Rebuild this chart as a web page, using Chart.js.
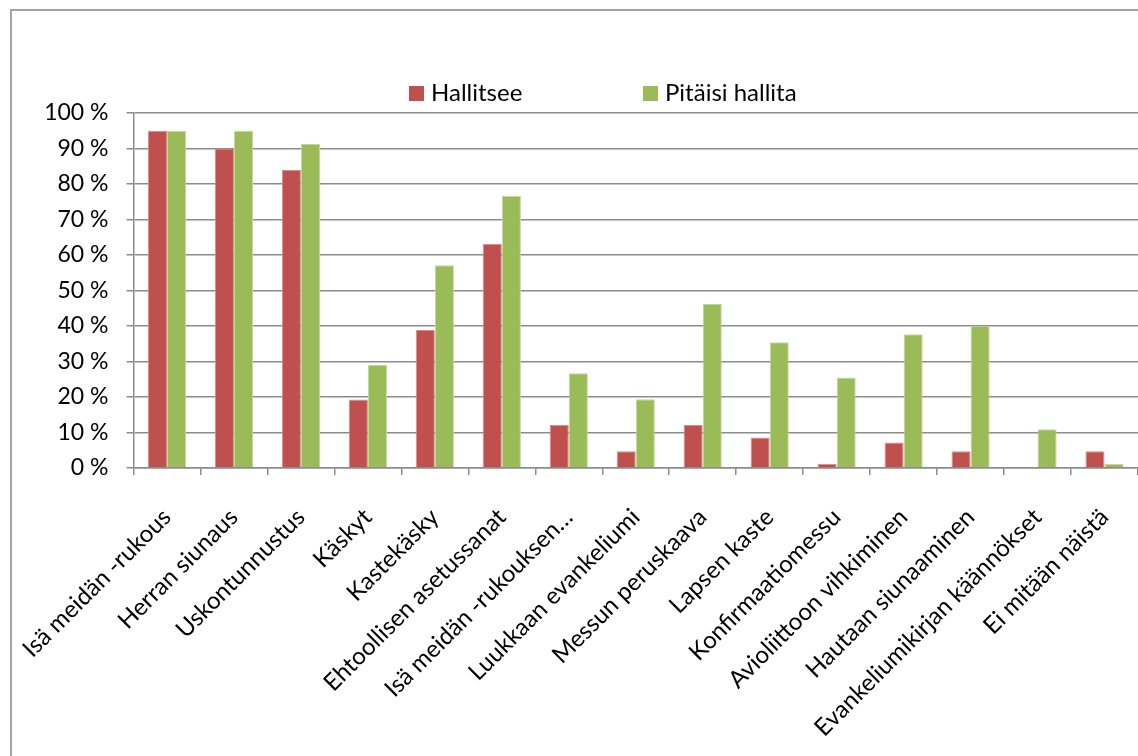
<!DOCTYPE html>
<html>
<head>
<meta charset="utf-8">
<script src="https://cdn.jsdelivr.net/npm/chart.js@4/dist/chart.umd.min.js"></script>
<style>
  html, body { margin: 0; padding: 0; background: #fff; overflow: hidden; }
  #wrap { position: relative; width: 1138px; height: 756px; overflow: hidden; }
  #frame {
    position: absolute; left: 10px; top: 9px; width: 1300px; height: 900px;
    border-left: 2px solid #a3a3a3; border-top: 2px solid #a3a3a3;
    box-sizing: border-box; pointer-events: none;
  }
  canvas { position: absolute; left: 0; top: 0; }
</style>
</head>
<body>
<div id="wrap">
  <div id="frame"></div>
  <canvas id="c" width="1138" height="756"></canvas>
</div>
<script>
// Categories (x axis)
const categories = [
  'Isä meidän -rukous',
  'Herran siunaus',
  'Uskontunnustus',
  'Käskyt',
  'Kastekäsky',
  'Ehtoollisen asetussanat',
  'Isä meidän -rukouksen…',
  'Luukkaan evankeliumi',
  'Messun peruskaava',
  'Lapsen kaste',
  'Konfirmaatiomessu',
  'Avioliittoon vihkiminen',
  'Hautaan siunaaminen',
  'Evankeliumikirjan käännökset',
  'Ei mitään näistä'
];

// Series values, percent
const hallitsee = [95, 90, 84, 19.3, 38.9, 63.2, 12.1, 4.7, 12.1, 8.6, 1.2, 7.2, 4.7, 0, 4.7];
const pitaisiHallita = [95, 95, 91.3, 29.1, 57.1, 76.7, 26.7, 19.4, 46.2, 35.4, 25.5, 37.7, 40.1, 10.9, 1.1];

// Series names
const seriesNames = ['Hallitsee', 'Pitäisi hallita'];

// Y axis tick labels
const yTickValues = [0, 10, 20, 30, 40, 50, 60, 70, 80, 90, 100];
const yTickLabels = ['0 %', '10 %', '20 %', '30 %', '40 %', '50 %', '60 %', '70 %', '80 %', '90 %', '100 %'];

const FONT = 'Lato, "Open Sans", sans-serif';
const GRID = '#8c8c8c';

// Simple legend drawn on the canvas, one row of square swatches
const legendRow = {
  id: 'legendRow',
  afterDraw(chart) {
    const ctx = chart.ctx;
    ctx.save();
    ctx.font = '24px ' + FONT;
    ctx.textBaseline = 'middle';
    ctx.textAlign = 'left';
    const startX = [409, 643];
    const cy = 93.5;
    chart.data.datasets.forEach((ds, i) => {
      const x = startX[i];
      ctx.fillStyle = ds.backgroundColor;
      ctx.fillRect(x, cy - 7.5, 15, 15);
      ctx.fillStyle = '#000';
      ctx.fillText(ds.label, x + 22, cy);
    });
    ctx.restore();
  }
};

new Chart(document.getElementById('c'), {
  type: 'bar',
  data: {
    labels: categories,
    datasets: [
      {
        label: seriesNames[0],
        data: hallitsee,
        backgroundColor: '#C0504D',
        borderColor: '#d98b89',
        borderWidth: 1
      },
      {
        label: seriesNames[1],
        data: pitaisiHallita,
        backgroundColor: '#9BBB59',
        borderColor: '#c3d79c',
        borderWidth: 1
      }
    ]
  },
  options: {
    responsive: false,
    animation: false,
    layout: { padding: { top: 113, left: 0, right: 0, bottom: 0 } },
    datasets: {
      bar: { categoryPercentage: 0.57, barPercentage: 1.0 }
    },
    plugins: {
      legend: { display: false },
      tooltip: { enabled: false }
    },
    scales: {
      x: {
        grid: {
          display: true,
          drawOnChartArea: false,
          drawTicks: true,
          tickLength: 7,
          offset: true,
          color: GRID,
          lineWidth: 1.5
        },
        border: { display: true, color: GRID, width: 1.5 },
        ticks: {
          autoSkip: false,
          maxRotation: 45,
          minRotation: 45,
          padding: 28,
          color: '#000',
          font: { family: FONT, size: 24 }
        },
        afterFit(scale) {
          scale.height = 288;
          scale.paddingLeft = 0;
          scale.paddingRight = 0;
        }
      },
      y: {
        min: 0,
        max: 100,
        afterBuildTicks(scale) {
          scale.ticks = yTickValues.map(v => ({ value: v }));
        },
        grid: {
          color: GRID,
          lineWidth: 1.5,
          drawTicks: true,
          tickLength: 7
        },
        border: { display: true, color: GRID, width: 1.5 },
        ticks: {
          padding: 18,
          color: '#000',
          font: { family: FONT, size: 23 },
          callback: (v) => yTickLabels[yTickValues.indexOf(v)]
        },
        afterFit(scale) {
          scale.width = 133.5;
        }
      }
    }
  },
  plugins: [legendRow]
});
</script>
</body>
</html>
